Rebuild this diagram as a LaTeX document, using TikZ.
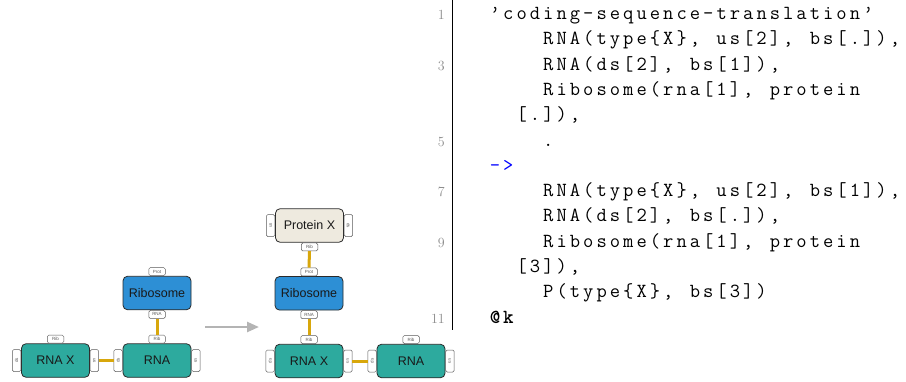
\documentclass[tikz,border=0pt]{standalone}
\usepackage{fontspec}
\newfontfamily\sffont{Liberation Sans}
\usetikzlibrary{arrows.meta}
\definecolor{rnacol}{HTML}{2DAA9E}
\definecolor{ribocol}{HTML}{2D8FD5}
\definecolor{protcol}{HTML}{EEEADF}
\definecolor{linkcol}{HTML}{D8A70C}
\definecolor{bordcol}{HTML}{2A2A2A}
\definecolor{tabcol}{HTML}{5A5A5A}
\definecolor{numcol}{HTML}{8C8C8C}
\definecolor{arrcol}{HTML}{B4B4B4}
\newdimen\cw \cw=13.33pt
\ExplSyntaxOn
\NewDocumentCommand\codeline{m}{\str_map_inline:nn{#1}{\makebox[\cw][c]{##1}}}
\ExplSyntaxOff
\newcommand\mycodefont{\ttfamily\fontsize{20}{22}\selectfont}
\tikzset{
  box/.style={draw=bordcol, line width=0.8pt, rounded corners=4.5pt, minimum width=68pt, minimum height=33.5pt, inner sep=0pt, text=black!90, font=\sffont\fontsize{12.5}{14}\selectfont},
  rnabox/.style={box, fill=rnacol},
  ribobox/.style={box, fill=ribocol},
  protbox/.style={box, fill=protcol},
  tab/.style={draw=tabcol, line width=0.5pt, fill=white, rounded corners=1.5pt, inner sep=0pt, text=tabcol, font=\sffont\fontsize{4.5}{4.5}\selectfont},
  ttab/.style={tab, minimum width=16.5pt, minimum height=8pt},
  stab/.style={tab, minimum width=8.5pt, minimum height=22pt},
  link/.style={draw=linkcol, line width=3pt},
  flow/.style={draw=arrcol, line width=2.5pt, -{Triangle[length=12pt,width=10pt]}},
  code/.style={anchor=base west, inner sep=0pt, font=\mycodefont},
  lnum/.style={anchor=base east, inner sep=0pt, text=numcol, font=\fontsize{14}{14}\selectfont},
}
\begin{document}
\begin{tikzpicture}[x=1pt,y=-1pt]
\useasboundingbox (0,0) rectangle (906,381);

% ---------- left panel ----------
\node[rnabox] (x1) at (55.5,360.5) {RNA X};
\node[rnabox] (r1) at (157,360.5) {RNA};
\node[ribobox] (b1) at (157,293) {Ribosome};

\node[ttab, anchor=south] (x1t) at (x1.north) {Rib};
\node[stab, anchor=east] (x1l) at (x1.west) {\rotatebox{90}{ds}};
\node[stab, anchor=west] (x1r) at (x1.east) {\rotatebox{-90}{us}};
\node[ttab, anchor=south] (r1t) at (r1.north) {Rib};
\node[stab, anchor=east] (r1l) at (r1.west) {\rotatebox{90}{ds}};
\node[stab, anchor=west] (r1r) at (r1.east) {\rotatebox{-90}{us}};
\node[ttab, anchor=south] (b1t) at (b1.north) {Prot};
\node[ttab, anchor=north] (b1b) at (b1.south) {RNA};

\draw[link] (x1r.east) -- (r1l.west);
\draw[link] (b1b.south) -- (r1t.north);

% ---------- arrow ----------
\coordinate (a1) at (205,327);
\coordinate (a2) at (259,327);
\draw[flow] (a1) -- (a2);

% ---------- right panel ----------
\node[protbox] (p2) at (309.5,225.5) {Protein X};
\node[ribobox] (b2) at (309,293.3) {Ribosome};
\node[rnabox] (x2) at (309,361) {RNA X};
\node[rnabox] (r2) at (411,361) {RNA};

\node[stab, anchor=east] (p2l) at (p2.west) {\rotatebox{90}{us}};
\node[stab, anchor=west] (p2r) at (p2.east) {\rotatebox{-90}{ds}};
\node[ttab, anchor=north] (p2b) at (p2.south) {Rib};
\node[ttab, anchor=south] (b2t) at (b2.north) {Prot};
\node[ttab, anchor=north] (b2b) at (b2.south) {RNA};
\node[ttab, anchor=south] (x2t) at (x2.north) {Rib};
\node[stab, anchor=east] (x2l) at (x2.west) {\rotatebox{90}{ds}};
\node[stab, anchor=west] (x2r) at (x2.east) {\rotatebox{-90}{us}};
\node[ttab, anchor=south] (r2t) at (r2.north) {Rib};
\node[stab, anchor=east] (r2l) at (r2.west) {\rotatebox{90}{ds}};
\node[stab, anchor=west] (r2r) at (r2.east) {\rotatebox{-90}{us}};

\draw[link] (p2b.south) -- (b2t.north);
\draw[link] (b2b.south) -- (x2t.north);
\draw[link] (x2r.east) -- (r2l.west);

% ---------- listing ----------
\coordinate (rt) at (452,0);
\coordinate (rb) at (452,330);
\draw[line width=0.8pt, black] (rt) -- (rb);

\node[lnum] (n1) at (445,19.5) {1};
\node[lnum] (n3) at (445,70.1) {3};
\node[lnum] (n5) at (445,146.0) {5};
\node[lnum] (n7) at (445,196.6) {7};
\node[lnum] (n9) at (445,247.2) {9};
\node[lnum] (n11) at (445,323.1) {11};

\node[code] (c1) at (488.2,19.5) {\codeline{’coding-sequence-translation’}};
\node[code] (c2) at (541.5,44.8) {\codeline{RNA(type{X}, us[2], bs[.]),}};
\node[code] (c3) at (541.5,70.1) {\codeline{RNA(ds[2], bs[1]),}};
\node[code] (c4) at (541.5,95.4) {\codeline{Ribosome(rna[1], protein}};
\node[code] (c4b) at (514.9,120.7) {\codeline{[.]),}};
\node[code] (c5) at (541.5,146.0) {\codeline{.}};
\node[code, text=blue] (c6) at (488.2,171.3) {\codeline{->}};
\node[code] (c7) at (541.5,196.6) {\codeline{RNA(type{X}, us[2], bs[1]),}};
\node[code] (c8) at (541.5,221.9) {\codeline{RNA(ds[2], bs[.]),}};
\node[code] (c9) at (541.5,247.2) {\codeline{Ribosome(rna[1], protein}};
\node[code] (c9b) at (514.9,272.5) {\codeline{[3]),}};
\node[code] (c10) at (541.5,297.8) {\codeline{P(type{X}, bs[3])}};
\node[code, font=\mycodefont\bfseries] (c11) at (488.2,323.1) {\codeline{@k}};
\end{tikzpicture}
\end{document}
